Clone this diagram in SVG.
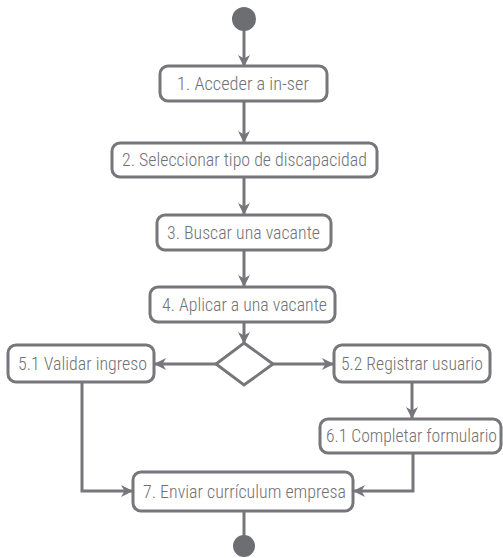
<svg xmlns="http://www.w3.org/2000/svg" width="503" height="558" viewBox="0 0 503 558">
<defs>
<marker id="ah" viewBox="0 0 12 12" refX="11" refY="6" markerWidth="12" markerHeight="12" markerUnits="userSpaceOnUse" orient="auto">
<path d="M0,0 L12,6 L0,12 L3.5,6 z" fill="#77777b"/>
</marker>
<style>
.box{fill:#fff;stroke:#77777b;stroke-width:3}
.ln{fill:none;stroke:#77777b;stroke-width:3}
.arr{marker-end:url(#ah)}
.t{font-family:"Liberation Sans Narrow","Roboto Condensed",Roboto,"Liberation Sans",Arial,sans-serif;font-size:17.5px;font-weight:300;fill:#707174;text-anchor:middle;dominant-baseline:central}
.dot{fill:#6d6e72}
</style>
</defs>
<g id="connectors">
<line class="ln arr" x1="244" y1="30" x2="244" y2="66"/>
<line class="ln arr" x1="244" y1="101" x2="244" y2="142"/>
<line class="ln arr" x1="244" y1="177" x2="244" y2="214"/>
<line class="ln arr" x1="244" y1="250" x2="244" y2="286"/>
<line class="ln arr" x1="244" y1="322" x2="244" y2="343"/>
<line class="ln arr" x1="216" y1="364" x2="155" y2="364"/>
<line class="ln arr" x1="273" y1="364" x2="333" y2="364"/>
<line class="ln arr" x1="412" y1="382" x2="412" y2="418"/>
<polyline class="ln arr" points="82,382 82,491 132,491"/>
<polyline class="ln arr" points="413,453 413,491 354,491"/>
<line class="ln" x1="244" y1="511" x2="244" y2="536"/>
</g>
<g id="start"><circle class="dot" cx="244" cy="19" r="12"/></g>
<g id="n1"><rect class="box" x="160" y="66" width="167" height="35" rx="8"/><text class="t" x="243" y="84" textLength="132" lengthAdjust="spacingAndGlyphs">1. Acceder a in-ser</text></g>
<g id="n2"><rect class="box" x="112" y="143" width="265" height="34" rx="8"/><text class="t" x="244.5" y="160" textLength="245" lengthAdjust="spacingAndGlyphs">2. Seleccionar tipo de discapacidad</text></g>
<g id="n3"><rect class="box" x="157" y="215" width="174" height="35" rx="8"/><text class="t" x="243.5" y="233" textLength="153" lengthAdjust="spacingAndGlyphs">3. Buscar una vacante</text></g>
<g id="n4"><rect class="box" x="150" y="287" width="185" height="35" rx="8"/><text class="t" x="244.5" y="305" textLength="165" lengthAdjust="spacingAndGlyphs">4. Aplicar a una vacante</text></g>
<g id="decision"><polygon class="box" points="244,343 273,364 244,385 216,364"/></g>
<g id="n51"><rect class="box" x="8" y="345" width="146" height="37" rx="8"/><text class="t" x="82.5" y="364" textLength="129" lengthAdjust="spacingAndGlyphs">5.1 Validar ingreso</text></g>
<g id="n52"><rect class="box" x="334" y="345" width="156" height="37" rx="8"/><text class="t" x="412" y="364" textLength="142" lengthAdjust="spacingAndGlyphs">5.2 Registrar usuario</text></g>
<g id="n61"><rect class="box" x="320" y="419" width="181" height="34" rx="8"/><text class="t" x="411.5" y="436" textLength="171" lengthAdjust="spacingAndGlyphs">6.1 Completar formulario</text></g>
<g id="n7"><rect class="box" x="133" y="472" width="220" height="39" rx="8"/><text class="t" x="244.5" y="492" textLength="203" lengthAdjust="spacingAndGlyphs">7. Enviar currículum empresa</text></g>
<g id="end"><circle class="dot" cx="244" cy="546" r="11"/></g>
</svg>
